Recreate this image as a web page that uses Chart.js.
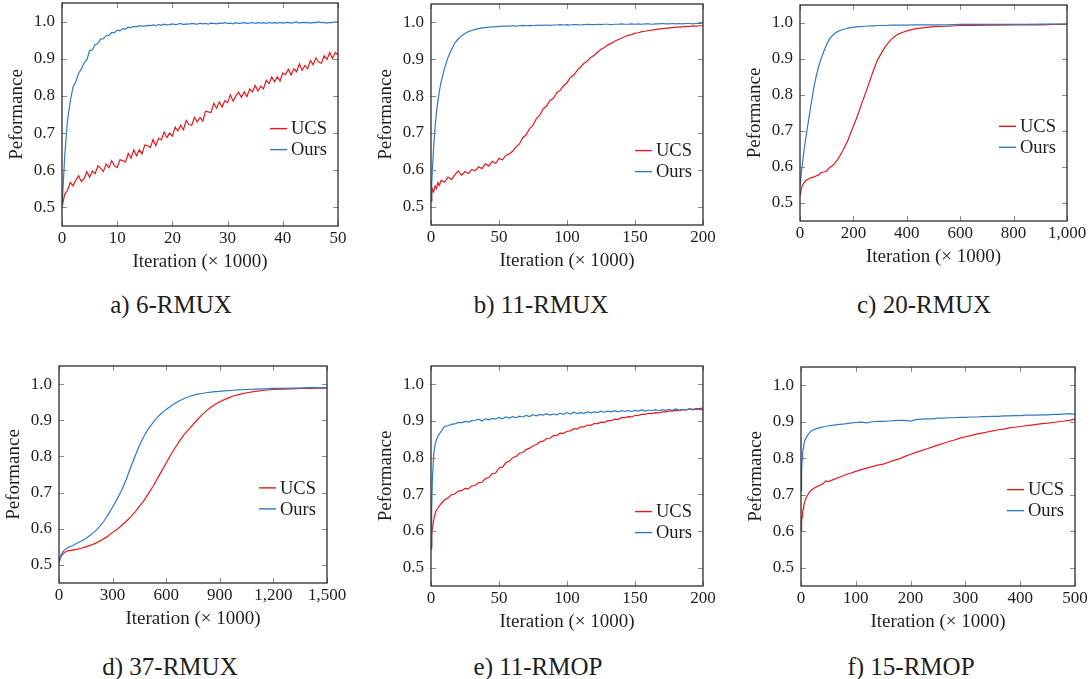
<!DOCTYPE html>
<html>
<head>
<meta charset="utf-8">
<title>UCS vs Ours - RMUX / RMOP</title>
<script src="https://cdn.jsdelivr.net/npm/chart.js@4.4.0/dist/chart.umd.min.js"></script>
<style>
  html, body { margin: 0; padding: 0; background: #fff; overflow: hidden; }
  body { width: 1092px; height: 679px; position: relative; }
  canvas { position: absolute; }
  .caption {
    position: absolute;
    font-family: 'Liberation Serif', 'DejaVu Serif', serif;
    font-size: 25px;
    line-height: 1;
    color: #1e1e1e;
    white-space: nowrap;
    transform: translate(-50%, -50%);
  }
</style>
</head>
<body>
<script>
// Series colours / fonts
const RED = '#e5191f';
const BLUE = '#2f7bc0';
const TEXT = '#1e1e1e';
const SERIF = "'Liberation Serif', 'DejaVu Serif', serif";

const legendLabels = ['UCS', 'Ours'];
const yTicks = [0.5, 0.6, 0.7, 0.8, 0.9, 1.0];

// ---- a) 6-RMUX ----
const iterA = [0,0.5,1,1.5,2,2.5,3,3.5,4,4.5,5,5.5,6,6.5,7,7.5,8,8.5,9,9.5,
  10,10.5,11,11.5,12,12.5,13,13.5,14,14.5,15,15.5,16,16.5,17,17.5,18,18.5,19,19.5,
  20,20.5,21,21.5,22,22.5,23,23.5,24,24.5,25,25.5,26,26.5,27,27.5,28,28.5,29,29.5,
  30,30.5,31,31.5,32,32.5,33,33.5,34,34.5,35,35.5,36,36.5,37,37.5,38,38.5,39,39.5,
  40,40.5,41,41.5,42,42.5,43,43.5,44,44.5,45,45.5,46,46.5,47,47.5,48,48.5,49,49.5,50];
const ucsA = [0.500,0.536,0.546,0.567,0.558,0.573,0.585,0.570,0.577,0.596,
  0.581,0.598,0.591,0.612,0.605,0.597,0.617,0.607,0.626,0.612,
  0.607,0.628,0.626,0.622,0.645,0.633,0.655,0.639,0.655,0.644,
  0.668,0.666,0.661,0.683,0.666,0.686,0.682,0.703,0.688,0.700,
  0.692,0.716,0.706,0.721,0.709,0.734,0.723,0.721,0.742,0.730,
  0.742,0.732,0.759,0.757,0.755,0.780,0.767,0.784,0.770,0.787,
  0.782,0.803,0.786,0.800,0.810,0.796,0.811,0.798,0.819,0.811,
  0.828,0.813,0.826,0.819,0.842,0.833,0.851,0.838,0.851,0.840,
  0.862,0.857,0.872,0.856,0.873,0.865,0.886,0.869,0.882,0.873,
  0.895,0.884,0.902,0.891,0.888,0.908,0.898,0.917,0.901,0.917,0.911];
const oursA = [0.500,0.640,0.735,0.786,0.824,0.838,0.861,0.872,0.889,0.897,
  0.922,0.924,0.938,0.941,0.953,0.954,0.962,0.963,0.971,0.970,
  0.977,0.975,0.981,0.980,0.985,0.984,0.987,0.986,0.989,0.988,
  0.988,0.990,0.989,0.991,0.989,0.992,0.990,0.993,0.991,0.992,
  0.994,0.992,0.993,0.995,0.992,0.994,0.993,0.995,0.994,0.993,
  0.996,0.994,0.995,0.993,0.996,0.995,0.994,0.996,0.995,0.997,
  0.995,0.996,0.994,0.997,0.995,0.996,0.997,0.995,0.996,0.998,
  0.995,0.997,0.996,0.997,0.995,0.998,0.996,0.997,0.996,0.998,
  0.996,0.997,0.998,0.996,0.997,0.999,0.996,0.998,0.997,0.998,
  0.996,0.998,0.997,0.999,0.997,0.998,0.996,0.998,0.997,0.999,0.998];
const ticksA = [0, 10, 20, 30, 40, 50];

// ---- b) 11-RMUX and e) 11-RMOP share the same checkpoints ----
const iter200 = [0,0.5,1,2,3,4,5,6,7.5,10,12.5,15,17.5,20,22.5,25,27.5,30,32.5,35,
  37.5,40,42.5,45,47.5,50,52.5,55,57.5,60,62.5,65,67.5,70,72.5,75,77.5,80,82.5,85,
  87.5,90,92.5,95,97.5,100,102.5,105,107.5,110,112.5,115,117.5,120,122.5,125,127.5,130,132.5,135,
  137.5,140,142.5,145,147.5,150,152.5,155,157.5,160,162.5,165,167.5,170,172.5,175,177.5,180,182.5,185,
  187.5,190,192.5,195,197.5,200];
const ucsB = [0.515,0.535,0.548,0.540,0.556,0.549,0.565,0.557,
  0.571,0.566,0.580,0.573,0.586,0.597,0.585,0.595,0.590,0.601,0.597,0.608,0.603,0.616,0.610,0.623,0.617,0.631,0.627,0.639,
  0.643,0.650,0.662,0.670,0.687,0.695,0.712,0.721,0.739,0.748,
  0.765,0.773,0.788,0.794,0.809,0.816,0.828,0.836,0.851,0.857,
  0.870,0.879,0.889,0.895,0.905,0.911,0.919,0.927,0.932,0.939,
  0.943,0.949,0.953,0.957,0.961,0.965,0.967,0.971,0.972,0.975,
  0.976,0.978,0.979,0.981,0.982,0.983,0.984,0.985,0.986,0.987,
  0.987,0.988,0.989,0.989,0.990,0.990,0.991,0.991];
const oursB = [0.515,0.560,0.600,0.665,0.715,0.755,0.785,0.810,
  0.840,0.876,0.905,0.926,0.944,0.955,0.964,0.970,0.975,0.978,0.981,0.983,0.985,0.986,0.987,0.988,0.988,0.989,0.990,0.990,
  0.990,0.991,0.990,0.991,0.992,0.991,0.992,0.991,0.992,0.993,
  0.992,0.993,0.992,0.993,0.993,0.994,0.993,0.994,0.993,0.994,
  0.994,0.993,0.994,0.995,0.994,0.994,0.995,0.994,0.995,0.995,
  0.994,0.995,0.995,0.996,0.995,0.995,0.996,0.995,0.996,0.995,
  0.996,0.996,0.995,0.996,0.996,0.997,0.996,0.996,0.997,0.996,
  0.997,0.996,0.997,0.997,0.996,0.997,0.997,0.998];
const ticks200 = [0, 50, 100, 150, 200];

// ---- c) 20-RMUX ----
const iterC = [0,5,10,15,20,25,30,40,50,60,70,80,90,100,110,120,130,140,150,160,
  170,180,190,200,210,220,230,240,250,260,270,280,290,300,320,340,360,380,400,425,
  450,475,500,550,600,650,700,750,800,850,900,950,1000];
const ucsC = [0.520,0.540,0.550,0.556,0.561,0.564,0.566,0.570,0.572,0.575,
  0.578,0.585,0.586,0.589,0.598,0.603,0.610,0.620,0.632,0.645,
  0.660,0.675,0.695,0.713,0.732,0.752,0.774,0.794,0.815,0.836,
  0.858,0.878,0.897,0.910,0.935,0.953,0.966,0.973,0.978,0.983,
  0.986,0.988,0.990,0.991,0.993,0.993,0.994,0.994,0.995,0.995,0.995,0.996,0.996];
const oursC = [0.545,0.585,0.615,0.645,0.672,0.697,0.720,0.768,0.812,0.850,
  0.880,0.903,0.922,0.941,0.955,0.964,0.971,0.976,0.979,0.982,
  0.984,0.986,0.987,0.988,0.989,0.990,0.990,0.991,0.991,0.992,
  0.992,0.992,0.993,0.993,0.993,0.994,0.994,0.994,0.994,0.995,
  0.995,0.995,0.995,0.995,0.996,0.996,0.996,0.996,0.996,0.996,0.997,0.997,0.997];
const ticksC = [0, 200, 400, 600, 800, 1000];

// ---- d) 37-RMUX ----
const iterD = [0,10,20,30,40,50,75,100,125,150,175,200,225,250,275,300,325,350,375,400,
  425,450,475,500,525,550,575,600,625,650,675,700,725,750,775,800,825,850,875,900,
  925,950,975,1000,1050,1100,1150,1200,1250,1300,1350,1400,1450,1500];
const ucsD = [0.505,0.522,0.530,0.534,0.537,0.539,0.541,0.543,0.546,0.550,
  0.554,0.559,0.565,0.572,0.580,0.590,0.598,0.609,0.620,0.632,
  0.646,0.662,0.678,0.697,0.716,0.738,0.760,0.782,0.804,0.824,
  0.843,0.860,0.874,0.888,0.902,0.915,0.926,0.936,0.944,0.951,
  0.957,0.962,0.967,0.970,0.976,0.980,0.983,0.985,0.986,0.987,0.988,0.988,0.989,0.989];
const oursD = [0.510,0.526,0.535,0.541,0.545,0.548,0.553,0.560,0.566,0.573,
  0.582,0.592,0.605,0.620,0.639,0.660,0.682,0.706,0.735,0.768,
  0.800,0.830,0.855,0.876,0.893,0.908,0.920,0.930,0.939,0.947,
  0.954,0.960,0.965,0.969,0.972,0.974,0.976,0.978,0.979,0.980,
  0.981,0.982,0.983,0.984,0.985,0.986,0.987,0.988,0.988,0.989,0.989,0.990,0.990,0.990];
const ticksD = [0, 300, 600, 900, 1200, 1500];

// ---- e) 11-RMOP (uses iter200) ----
const ucsE = [0.552,0.585,0.605,0.630,0.648,0.657,0.662,0.668,
  0.675,0.685,0.690,0.699,0.701,0.709,0.710,0.716,0.715,0.723,0.724,0.732,0.733,0.743,0.746,0.756,0.758,0.772,0.774,0.786,
  0.790,0.800,0.803,0.812,0.814,0.822,0.826,0.832,0.836,0.843,
  0.845,0.852,0.853,0.860,0.861,0.867,0.866,0.872,0.873,0.879,
  0.878,0.884,0.884,0.889,0.888,0.893,0.893,0.897,0.896,0.901,
  0.901,0.905,0.904,0.909,0.909,0.912,0.911,0.915,0.915,0.918,
  0.918,0.921,0.920,0.923,0.922,0.925,0.925,0.927,0.927,0.929,
  0.928,0.931,0.930,0.933,0.932,0.934,0.934,0.935];
const oursE = [0.557,0.660,0.740,0.810,0.835,0.849,0.858,0.864,
  0.872,0.885,0.887,0.891,0.892,0.896,0.895,0.899,0.897,0.901,0.902,0.905,0.900,0.906,0.903,0.907,0.905,0.910,0.906,0.911,
  0.908,0.912,0.909,0.913,0.911,0.915,0.912,0.917,0.914,0.918,
  0.916,0.920,0.916,0.919,0.917,0.921,0.918,0.923,0.919,0.924,
  0.920,0.923,0.921,0.925,0.922,0.925,0.923,0.927,0.924,0.927,
  0.925,0.928,0.925,0.928,0.926,0.929,0.926,0.929,0.927,0.930,
  0.927,0.930,0.928,0.931,0.928,0.931,0.929,0.932,0.929,0.933,
  0.930,0.932,0.930,0.933,0.930,0.932,0.931,0.930];

// ---- f) 15-RMOP ----
const iterF = [0,1,2,3,4,5,7.5,10,12.5,15,17.5,20,25,30,35,40,45,50,
  60,70,80,90,100,110,120,130,140,150,160,170,180,190,200,210,220,230,240,250,
  260,270,280,290,300,310,320,330,340,350,360,370,380,390,400,410,420,430,440,450,
  460,470,480,490,500];
const ucsF = [0.600,0.625,0.640,0.652,0.662,0.670,0.684,0.694,0.700,0.706,0.711,0.714,0.719,0.723,0.726,0.730,0.738,0.736,
  0.742,0.748,0.754,0.759,0.764,0.769,0.773,0.777,0.781,0.784,
  0.789,0.794,0.799,0.805,0.811,0.816,0.821,0.826,0.831,0.836,
  0.841,0.846,0.850,0.855,0.859,0.862,0.866,0.869,0.872,0.875,
  0.878,0.880,0.883,0.885,0.887,0.889,0.891,0.893,0.895,0.896,
  0.898,0.900,0.902,0.904,0.907];
const oursF = [0.710,0.760,0.795,0.815,0.828,0.838,0.850,0.858,0.864,0.869,0.873,0.876,0.879,0.882,0.884,0.886,0.887,0.889,
  0.891,0.893,0.894,0.896,0.898,0.899,0.897,0.900,0.901,0.901,
  0.902,0.903,0.904,0.904,0.902,0.906,0.907,0.908,0.908,0.910,
  0.910,0.911,0.911,0.912,0.912,0.913,0.913,0.914,0.914,0.915,
  0.915,0.916,0.916,0.917,0.917,0.918,0.918,0.918,0.919,0.919,
  0.920,0.920,0.921,0.922,0.920];
const ticksF = [0, 100, 200, 300, 400, 500];

// Subplots: data + where each plot box sits on the page
const panels = [
  { caption: 'a) 6-RMUX',  iter: iterA,   ucs: ucsA, ours: oursA, xMax: 50,   xTicks: ticksA,
    box: { left: 62, top: 3, width: 276, height: 223 }, cap: [171, 304], legendY: 0.712 },
  { caption: 'b) 11-RMUX', iter: iter200, ucs: ucsB, ours: oursB, xMax: 200,  xTicks: ticks200,
    box: { left: 431, top: 4, width: 272, height: 221 }, cap: [541, 304], legendY: 0.652 },
  { caption: 'c) 20-RMUX', iter: iterC,   ucs: ucsC, ours: oursC, xMax: 1000, xTicks: ticksC,
    box: { left: 800, top: 5, width: 267, height: 216 }, cap: [924, 304], legendY: 0.713 },
  { caption: 'd) 37-RMUX', iter: iterD,   ucs: ucsD, ours: oursD, xMax: 1500, xTicks: ticksD,
    box: { left: 59, top: 366, width: 268, height: 217 }, cap: [170, 666], legendY: 0.713 },
  { caption: 'e) 11-RMOP', iter: iter200, ucs: ucsE, ours: oursE, xMax: 200,  xTicks: ticks200,
    box: { left: 431, top: 366, width: 272, height: 220 }, cap: [538, 666], legendY: 0.653 },
  { caption: 'f) 15-RMOP', iter: iterF,   ucs: ucsF, ours: oursF, xMax: 500,  xTicks: ticksF,
    box: { left: 801, top: 367, width: 274, height: 219 }, cap: [911, 666], legendY: 0.714 }
];

// space reserved around each plot box inside its canvas
const AXIS_W = 54;
const AXIS_H = 46;
const PAD_T = 20;
const PAD_R = 30;

// pgfplots-like frame: inner tick marks on all sides, dark border, legend inside
const framePlugin = {
  id: 'frame',
  afterDraw(chart, args, opts) {
    const { ctx, chartArea: a, scales } = chart;
    const tick = 5;
    ctx.save();

    ctx.strokeStyle = '#8a8a8a';
    ctx.lineWidth = 1;
    ctx.beginPath();
    scales.y.ticks.forEach(t => {
      const y = Math.round(scales.y.getPixelForValue(t.value)) + 0.5;
      ctx.moveTo(a.left, y); ctx.lineTo(a.left + tick, y);
      ctx.moveTo(a.right, y); ctx.lineTo(a.right - tick, y);
    });
    scales.x.ticks.forEach(t => {
      const x = Math.round(scales.x.getPixelForValue(t.value)) + 0.5;
      ctx.moveTo(x, a.bottom); ctx.lineTo(x, a.bottom - tick);
      ctx.moveTo(x, a.top); ctx.lineTo(x, a.top + tick);
    });
    ctx.stroke();

    ctx.strokeStyle = '#2b2b2b';
    ctx.lineWidth = 1.3;
    ctx.strokeRect(a.left, a.top, a.right - a.left, a.bottom - a.top);

    // legend
    const x0 = a.right - 68;
    const y0 = scales.y.getPixelForValue(opts.legendY);
    ctx.font = '18.5px ' + SERIF;
    ctx.textBaseline = 'middle';
    ctx.fillStyle = TEXT;
    chart.data.datasets.forEach((ds, i) => {
      const y = y0 + i * 21;
      ctx.strokeStyle = ds.borderColor;
      ctx.lineWidth = 1.4;
      ctx.beginPath();
      ctx.moveTo(x0, y);
      ctx.lineTo(x0 + 17, y);
      ctx.stroke();
      ctx.fillText(ds.label, x0 + 21, y + 1);
    });
    ctx.restore();
  }
};

function toPoints(xs, ys) {
  return xs.map((x, i) => ({ x: x, y: ys[i] }));
}

panels.forEach(p => {
  const canvas = document.createElement('canvas');
  const w = AXIS_W + p.box.width + PAD_R;
  const h = PAD_T + p.box.height + AXIS_H;
  canvas.width = w;
  canvas.height = h;
  canvas.style.width = w + 'px';
  canvas.style.height = h + 'px';
  canvas.style.left = (p.box.left - AXIS_W) + 'px';
  canvas.style.top = (p.box.top - PAD_T) + 'px';
  document.body.appendChild(canvas);

  const caption = document.createElement('div');
  caption.className = 'caption';
  caption.textContent = p.caption;
  caption.style.left = p.cap[0] + 'px';
  caption.style.top = p.cap[1] + 'px';
  document.body.appendChild(caption);

  new Chart(canvas.getContext('2d'), {
    type: 'line',
    data: {
      datasets: [
        { label: legendLabels[0], data: toPoints(p.iter, p.ucs), borderColor: RED, backgroundColor: RED, order: 1 },
        { label: legendLabels[1], data: toPoints(p.iter, p.ours), borderColor: BLUE, backgroundColor: BLUE, order: 0 }
      ]
    },
    options: {
      responsive: false,
      animation: false,
      devicePixelRatio: 1,
      layout: { padding: { top: PAD_T, right: PAD_R, bottom: 0, left: 0 } },
      elements: {
        point: { radius: 0 },
        line: { borderWidth: 1.2, tension: 0 }
      },
      plugins: {
        legend: { display: false },
        tooltip: { enabled: false },
        frame: { legendY: p.legendY }
      },
      scales: {
        x: {
          type: 'linear',
          min: 0,
          max: p.xMax,
          afterBuildTicks: s => { s.ticks = p.xTicks.map(v => ({ value: v })); },
          afterFit: s => { s.height = AXIS_H; },
          grid: { display: false, drawTicks: false },
          border: { display: false },
          ticks: {
            autoSkip: false,
            maxRotation: 0,
            padding: 2,
            color: TEXT,
            font: { family: SERIF, size: 17 },
            callback: v => Number(v).toLocaleString('en-US')
          },
          title: {
            display: true,
            text: 'Iteration (× 1000)',
            color: TEXT,
            padding: 0,
            font: { family: SERIF, size: 19, lineHeight: 1 }
          }
        },
        y: {
          min: 0.45,
          max: 1.05,
          afterBuildTicks: s => { s.ticks = yTicks.map(v => ({ value: v })); },
          afterFit: s => { s.width = AXIS_W; },
          grid: { display: false, drawTicks: false },
          border: { display: false },
          ticks: {
            padding: 7,
            color: TEXT,
            font: { family: SERIF, size: 17 },
            callback: v => Number(v).toFixed(1)
          },
          title: {
            display: true,
            text: 'Peformance',
            color: TEXT,
            padding: 0,
            font: { family: SERIF, size: 19, lineHeight: 1 }
          }
        }
      }
    },
    plugins: [framePlugin]
  });
});
</script>
</body>
</html>
